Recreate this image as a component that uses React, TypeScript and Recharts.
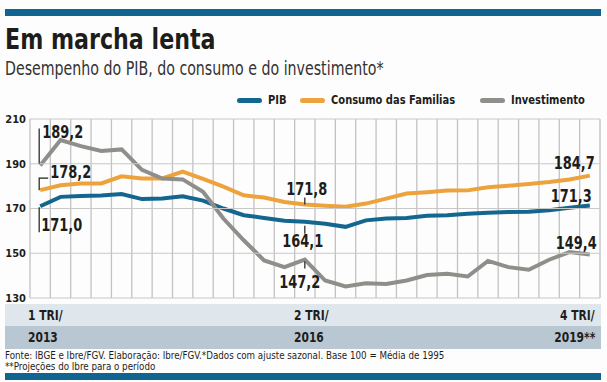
import { LineChart, Line, XAxis, YAxis, CartesianGrid } from "recharts";

// trimestres 1T2013 .. 4T2019
const quarters = [
  "1T13", "2T13", "3T13", "4T13",
  "1T14", "2T14", "3T14", "4T14",
  "1T15", "2T15", "3T15", "4T15",
  "1T16", "2T16", "3T16", "4T16",
  "1T17", "2T17", "3T17", "4T17",
  "1T18", "2T18", "3T18", "4T18",
  "1T19", "2T19", "3T19", "4T19",
];

const pib = [
  171.0, 175.2, 175.6, 175.8, 176.5, 174.2, 174.5, 175.5,
  173.5, 170.0, 167.0, 165.8, 164.5, 164.1, 163.2, 161.8,
  164.7, 165.5, 165.8, 166.8, 167.0, 167.7, 168.1, 168.4,
  168.5, 169.2, 170.3, 171.3,
];

const consumo = [
  178.2, 180.4, 181.2, 181.2, 184.4, 183.4, 183.4, 186.5,
  183.2, 179.8, 175.9, 174.9, 172.9, 171.8, 171.2, 170.8,
  172.2, 174.4, 176.7, 177.3, 178.0, 178.1, 179.5, 180.2,
  181.0, 181.8, 183.0, 184.7,
];

const investimento = [
  189.2, 200.6, 197.9, 195.7, 196.4, 187.3, 183.4, 183.0,
  177.5, 165.5, 155.8, 146.8, 143.8, 147.2, 137.8, 135.2,
  136.6, 136.3, 137.8, 140.3, 140.8, 139.6, 146.6, 143.8,
  142.6, 147.1, 150.5, 149.4,
];

const yTicks = [130, 150, 170, 190, 210];

const axisTop = ["1 TRI/", "2 TRI/", "4 TRI/"];
const axisBottom = ["2013", "2016", "2019**"];

const SERIES = [
  { key: "pib", label: "PIB", color: "#13668f", left: 237 },
  { key: "consumo", label: "Consumo das Familias", color: "#eda23c", left: 300 },
  { key: "investimento", label: "Investimento", color: "#8e8e8b", left: 480 },
];

const data = quarters.map((q, i) => ({
  q,
  i,
  pib: pib[i],
  consumo: consumo[i],
  investimento: investimento[i],
}));

// limites entre trimestres, para as linhas verticais da grade
const bandEdges = quarters.map((_, i) => i - 0.5).concat(quarters.length - 0.5);

const COND = "'DejaVu Sans Condensed', sans-serif";
const INK = "#1d1d1b";

const W = 607;
const H = 382;
const MARGIN = { top: 119, right: 7, bottom: 83, left: 0 };
const Y_AXIS_W = 30;
const PLOT_LEFT = MARGIN.left + Y_AXIS_W;
const PLOT_RIGHT = W - MARGIN.right;

type Note = {
  dx: number;
  dy: number;
  anchor: "start" | "middle" | "end";
  lead?: number[][];
};

const NOTES: Record<string, Record<number, Note>> = {
  pib: {
    0: { dx: 1, dy: 25, anchor: "start", lead: [[-1, 1], [-1, 26]] },
    13: { dx: -2, dy: 25, anchor: "middle", lead: [[0, 4], [0, 12]] },
    27: { dx: 2, dy: -4, anchor: "end" },
  },
  consumo: {
    0: { dx: 10, dy: -12, anchor: "start", lead: [[-1, 0], [-1, -12], [8, -12]] },
    13: { dx: 2, dy: -9, anchor: "middle", lead: [[0, -7], [0, 0]] },
    27: { dx: 5, dy: -7, anchor: "end" },
  },
  investimento: {
    0: { dx: 2, dy: -28, anchor: "start", lead: [[-1, -2], [-1, -37]] },
    13: { dx: -5, dy: 28, anchor: "middle", lead: [[0, 2], [0, 9]] },
    27: { dx: 7, dy: -6, anchor: "end" },
  },
};

const fmt = (v: number) => v.toFixed(1).replace(".", ",");

function makeLabel(key: string) {
  return (props: any) => {
    const { x, y, value, index } = props;
    const note = NOTES[key][index];
    if (!note) return <g key={`${key}-${index}`} />;
    const txt = fmt(value);
    return (
      <g key={`${key}-${index}`}>
        {note.lead && (
          <polyline
            points={note.lead.map(([a, b]) => `${x + a},${y + b}`).join(" ")}
            fill="none"
            stroke={INK}
            strokeWidth={1.2}
          />
        )}
        <text
          x={x + note.dx}
          y={y + note.dy}
          textAnchor={note.anchor}
          fontFamily={COND}
          fontWeight="bold"
          fontSize={17}
          fill={INK}
          textLength={txt.length * 8.2}
          lengthAdjust="spacingAndGlyphs"
        >
          {txt}
        </text>
      </g>
    );
  };
}

// tick do eixo y: rótulo + linha horizontal da grade na mesma altura
function YTick(props: any) {
  const { x, y, payload } = props;
  return (
    <g>
      <line x1={PLOT_LEFT} x2={PLOT_RIGHT} y1={y} y2={y} stroke="#c8c8c8" strokeWidth={1} />
      <text
        x={x}
        y={y}
        dy="0.355em"
        textAnchor="end"
        fill={INK}
        fontSize={11}
        fontWeight="bold"
        fontFamily={COND}
      >
        {payload.value}
      </text>
    </g>
  );
}

function Squeeze({ k, origin = "left", children }: { k: number; origin?: string; children: any }) {
  return (
    <span style={{ display: "inline-block", whiteSpace: "nowrap", transform: `scaleX(${k})`, transformOrigin: origin }}>
      {children}
    </span>
  );
}

const blank = () => "";

export default function App() {
  return (
    <div
      style={{
        position: "fixed",
        left: 0,
        top: 0,
        width: W,
        height: H,
        background: "#fdfdfd",
        overflow: "hidden",
        fontFamily: COND,
        color: INK,
      }}
    >
      <div style={{ position: "absolute", left: 5, top: 9, width: 596, height: 7, background: "#0f6590" }} />
      <div style={{ position: "absolute", left: 5, top: 25, fontSize: 28, fontWeight: 900, lineHeight: "30px" }}>
        <Squeeze k={0.88}>Em marcha lenta</Squeeze>
      </div>
      <div style={{ position: "absolute", left: 5, top: 57, fontSize: 19, lineHeight: "22px", color: "#333" }}>
        <Squeeze k={0.83}>Desempenho do PIB, do consumo e do investimento*</Squeeze>
      </div>

      {/* legenda */}
      {SERIES.map((s) => (
        <div
          key={s.key}
          style={{
            position: "absolute",
            top: 92,
            left: s.left,
            display: "flex",
            alignItems: "center",
            fontSize: 13,
            fontWeight: "bold",
            lineHeight: "16px",
          }}
        >
          <div style={{ width: 25, height: 5, borderRadius: 3, background: s.color, marginRight: 6 }} />
          <Squeeze k={0.85}>{s.label}</Squeeze>
        </div>
      ))}

      {/* faixa do eixo x */}
      <div style={{ position: "absolute", left: 5, top: 304, width: 596, height: 22, background: "#dfe6ec" }} />
      <div style={{ position: "absolute", left: 5, top: 326, width: 596, height: 23, background: "#b8c7d2" }} />
      {[axisTop, axisBottom].map((row, r) => (
        <div key={r} style={{ fontSize: 14, fontWeight: "bold", lineHeight: "17px" }}>
          <div style={{ position: "absolute", left: 28, top: r === 0 ? 307 : 329 }}>
            <Squeeze k={0.85}>{row[0]}</Squeeze>
          </div>
          <div style={{ position: "absolute", left: 294, top: r === 0 ? 307 : 329 }}>
            <Squeeze k={0.85}>{row[1]}</Squeeze>
          </div>
          <div style={{ position: "absolute", right: 12, top: r === 0 ? 307 : 329 }}>
            <Squeeze k={0.85} origin="right">{row[2]}</Squeeze>
          </div>
        </div>
      ))}

      <div style={{ position: "absolute", left: 5, top: 351, fontSize: 10, lineHeight: "10px" }}>
        <Squeeze k={0.97}>Fonte: IBGE e Ibre/FGV. Elaboração: Ibre/FGV.*Dados com ajuste sazonal. Base 100 = Média de 1995</Squeeze>
      </div>
      <div style={{ position: "absolute", left: 5, top: 362, fontSize: 10, lineHeight: "10px" }}>
        <Squeeze k={0.97}>**Projeções do Ibre para o período</Squeeze>
      </div>
      <div style={{ position: "absolute", left: 5, top: 373, width: 596, height: 7, background: "#0f6590" }} />

      <div style={{ position: "absolute", left: 0, top: 0 }}>
        <LineChart width={W} height={H} data={data} margin={MARGIN}>
          <CartesianGrid horizontal={false} stroke="#c2c2c2" strokeWidth={1.3} />
          <XAxis
            dataKey="i"
            type="number"
            domain={[-0.5, quarters.length - 0.5]}
            ticks={bandEdges}
            interval={0}
            height={1}
            tickFormatter={blank}
            tickLine={false}
            axisLine={false}
          />
          <YAxis
            domain={[130, 210]}
            ticks={yTicks}
            interval={0}
            width={Y_AXIS_W}
            axisLine={false}
            tickLine={false}
            tickSize={0}
            tickMargin={4}
            tick={YTick}
          />
          {SERIES.map((s) => (
            <Line
              key={s.key}
              type="linear"
              dataKey={s.key}
              stroke={s.color}
              strokeWidth={4}
              dot={false}
              isAnimationActive={false}
              label={makeLabel(s.key)}
            />
          ))}
        </LineChart>
      </div>
    </div>
  );
}
